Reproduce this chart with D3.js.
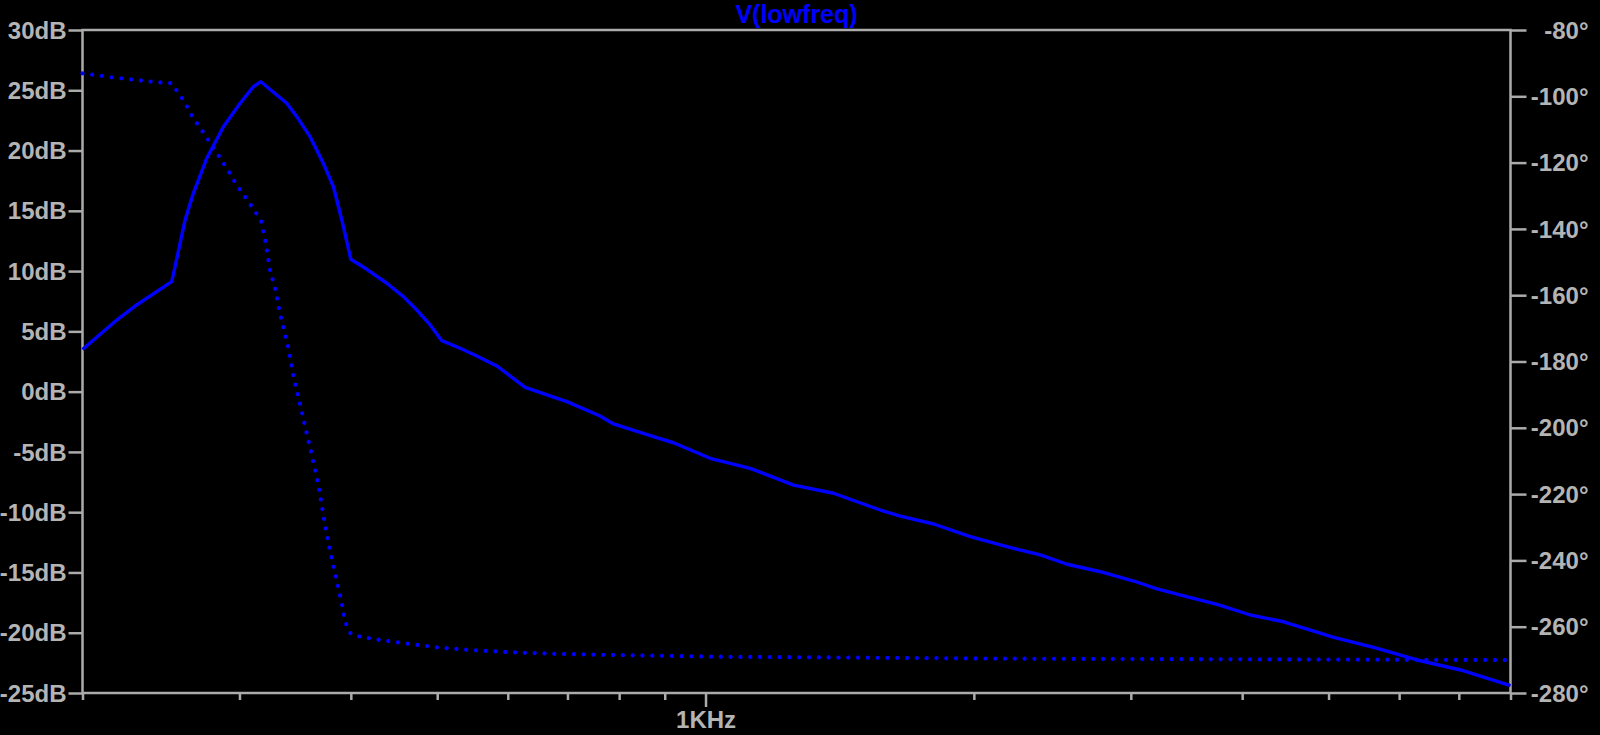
<!DOCTYPE html>
<html>
<head>
<meta charset="utf-8">
<script src="https://cdn.jsdelivr.net/npm/d3@7"></script>
<style>
  html, body { margin: 0; padding: 0; background: #000; }
  svg { display: block; }
  text { font-family: "Liberation Sans", Arial, sans-serif; font-weight: bold; }
</style>
</head>
<body>
<svg id="chart" width="1600" height="735"></svg>
<script>
// ---- data ----
const title = "V(lowfreq)";
const magFreq = [200, 218.5, 230, 251.8, 254, 260.7, 266.3, 275.7, 287.8, 300.5, 311, 317, 339, 347.9, 360, 372.6, 382.4, 390.8, 400, 416.9, 439, 458.2, 474.4, 491, 506, 530.5, 553.9, 583.3, 627.6, 699, 761.7, 788.4, 874.3, 920.7, 1012, 1122.5, 1255.6, 1392, 1570.7, 1654, 1802.7, 1982, 2141.8, 2375, 2545, 2773.6, 3023, 3211, 3439.6, 3750, 4086, 4454, 5069, 5618, 6286, 7032, 8000];
const magDb = [3.5, 5.94, 7.19, 9.12, 10.36, 14.24, 16.45, 19.36, 21.98, 23.92, 25.30, 25.71, 23.92, 22.81, 21.15, 18.94, 17.0, 14.24, 10.98, 10.15, 8.99, 7.88, 6.77, 5.53, 4.23, 3.60, 2.96, 2.13, 0.36, -0.83, -2.02, -2.68, -3.74, -4.24, -5.53, -6.36, -7.75, -8.43, -9.82, -10.32, -10.98, -12.03, -12.72, -13.55, -14.32, -14.94, -15.71, -16.37, -16.95, -17.64, -18.53, -19.09, -20.38, -21.21, -22.26, -23.09, -24.39];
const phaseFreq = [200, 215.7, 239.2, 251.8, 259.5, 266.3, 274.5, 281.6, 290.3, 297.9, 307, 317, 320.6, 324.7, 329, 333.2, 340.4, 344.9, 349.3, 355.5, 361.6, 367.9, 372.6, 377.5, 384.1, 390.8, 394.1, 400, 409.7, 431.4, 466.2, 503.8, 544.4, 603.6, 688.8, 785.7, 1022.7, 2164, 3667, 8000];
const phaseDeg = [-93.06, -94.27, -95.6, -96.08, -101.12, -106.64, -111.67, -116.2, -121.72, -126.76, -131.8, -137.32, -143.35, -152.4, -158.13, -165.67, -175.78, -184.59, -190.62, -199.67, -208.2, -217.25, -226.3, -234.84, -243.89, -252.94, -258.49, -262.2, -263.02, -264.01, -265.22, -266.33, -267.03, -267.72, -268.24, -268.54, -269.05, -269.65, -269.83, -270.05];
const dbTicks = [30, 25, 20, 15, 10, 5, 0, -5, -10, -15, -20, -25];
const degTicks = [-80, -100, -120, -140, -160, -180, -200, -220, -240, -260, -280];
const freqTicks = [200, 300, 400, 500, 600, 700, 800, 900, 1000, 2000, 3000, 4000, 5000, 6000, 7000, 8000];
const freqLabels = {1000: "1KHz"};

// ---- layout ----
const L = 82.5, R = 1510.5, T = 30, B = 693;
const grey = "#ababab";
const txtGrey = "#b4b4b4";
const blue = "#0000ff";

const svg = d3.select("#chart");
const x = d3.scaleLog().domain([200, 8000]).range([L, R]);
const yL = d3.scaleLinear().domain([-25, 30]).range([B, T]);
const yR = d3.scaleLinear().domain([-280, -80]).range([B, T]);

// plot box
svg.append("rect")
  .attr("x", L).attr("y", T).attr("width", R - L).attr("height", B - T)
  .attr("fill", "none").attr("stroke", grey).attr("stroke-width", 2.5);

function styleAxis(g) {
  g.select(".domain").remove();
  g.selectAll(".tick line").attr("stroke", grey).attr("stroke-width", 2.5);
  g.selectAll(".tick text").attr("fill", txtGrey).style("font-size", "24px")
    .style("font-family", "'Liberation Sans', Arial, sans-serif").style("font-weight", "bold");
}

// left axis
svg.append("g").attr("transform", `translate(${L},0)`)
  .call(d3.axisLeft(yL).tickValues(dbTicks).tickSize(14).tickPadding(2).tickFormat(d => d + "dB"))
  .call(styleAxis)
  .selectAll(".tick text").attr("dy", "0.34em");

// right axis
const ra = svg.append("g").attr("transform", `translate(${R},0)`)
  .call(d3.axisRight(yR).tickValues(degTicks).tickSize(16).tickFormat(d => d + "°"))
  .call(styleAxis);
ra.selectAll(".tick text").attr("text-anchor", "end").attr("x", 1588.5 - R).attr("dy", "0.34em");

// bottom axis
const ba = svg.append("g").attr("transform", `translate(0,${B})`)
  .call(d3.axisBottom(x).tickValues(freqTicks).tickSize(6).tickPadding(12).tickFormat(d => freqLabels[d] || ""))
  .call(styleAxis);
ba.selectAll(".tick line").attr("y2", d => freqLabels[d] ? 14 : 7);

// title
svg.append("text").attr("x", (L + R) / 2).attr("y", 23).attr("text-anchor", "middle")
  .attr("fill", blue).style("font-size", "25px").text(title);

// curves
const magLine = d3.line().x((d, i) => x(magFreq[i])).y(d => yL(d));
const phLine = d3.line().x((d, i) => x(phaseFreq[i])).y(d => yR(d));

svg.append("path").attr("d", phLine(phaseDeg))
  .attr("fill", "none").attr("stroke", blue).attr("stroke-width", 4.3)
  .attr("stroke-linecap", "round").attr("stroke-dasharray", "0 9.8");

svg.append("path").attr("d", magLine(magDb))
  .attr("fill", "none").attr("stroke", blue).attr("stroke-width", 3.4)
  .attr("stroke-linejoin", "round");
</script>
</body>
</html>
